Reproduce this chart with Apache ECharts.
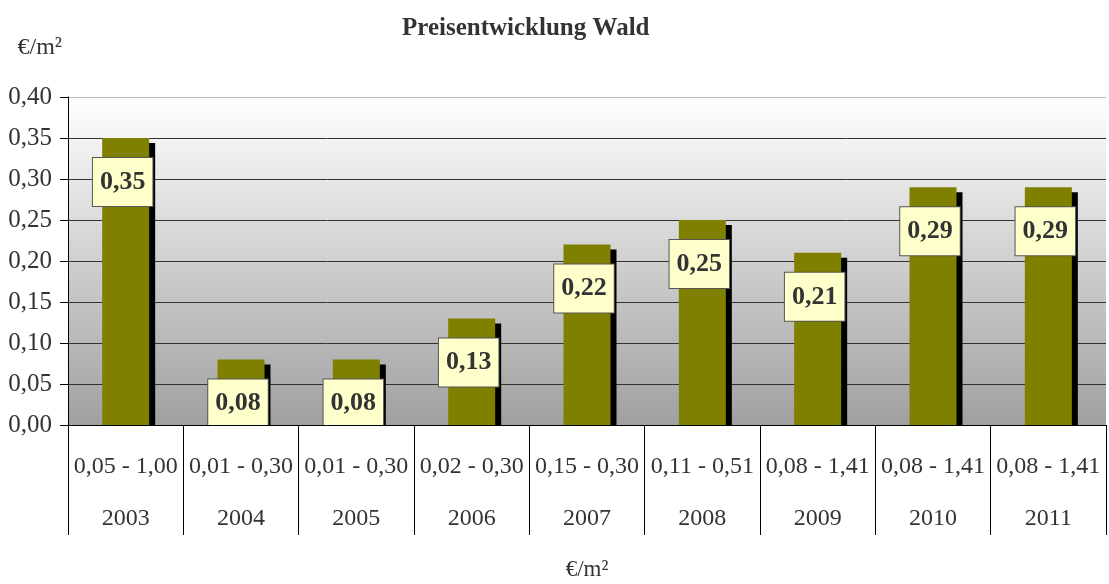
<!DOCTYPE html>
<html>
<head>
<meta charset="utf-8">
<script src="https://cdn.jsdelivr.net/npm/echarts@6/dist/echarts.min.js"></script>
<style>
	html, body { margin: 0; padding: 0; background: #fff; }
	#chart { width: 1109px; height: 584px; }
</style>
</head>
<body>
<div id="chart"></div>
<script>
// Daten
var years = ['2003', '2004', '2005', '2006', '2007', '2008', '2009', '2010', '2011'];
var ranges = ['0,05 - 1,00', '0,01 - 0,30', '0,01 - 0,30', '0,02 - 0,30', '0,15 - 0,30', '0,11 - 0,51', '0,08 - 1,41', '0,08 - 1,41', '0,08 - 1,41'];
var prices = [0.35, 0.08, 0.08, 0.13, 0.22, 0.25, 0.21, 0.29, 0.29];

var font = "'Liberation Serif', 'Times New Roman', serif";

function komma(v) {
	return v.toFixed(2).replace('.', ',');
}

var myChart = echarts.init(document.getElementById('chart'));
var option = {
	animation: false,
	title: {
		text: 'Preisentwicklung Wald',
		left: 397,
		top: 11,
		textStyle: {
			fontFamily: font,
			fontSize: 25,
			fontWeight: 'bold',
			color: '#333'
		}
	},
	grid: {
		left: 68,
		right: 3,
		top: 97,
		bottom: 159,
		outerBoundsMode: 'none',
		show: true,
		borderWidth: 0,
		backgroundColor: new echarts.graphic.LinearGradient(0, 0, 0, 1, [
			{ offset: 0, color: '#ffffff' },
			{ offset: 1, color: '#a0a0a0' }
		])
	},
	xAxis: {
		type: 'category',
		data: years,
		z: 10,
		name: '€/m²',
		nameLocation: 'middle',
		nameGap: 133,
		nameTextStyle: { fontFamily: font, fontSize: 23, color: '#333' },
		axisLine: { lineStyle: { color: '#000', width: 1 } },
		axisTick: { show: true, length: 110, lineStyle: { color: '#000' } },
		axisLabel: {
			margin: 16,
			interval: 0,
			formatter: function(value, idx) {
				return '{a|' + ranges[idx] + '}\n{a|' + value + '}';
			},
			rich: {
				a: { fontFamily: font, fontSize: 24, color: '#333', lineHeight: 52 }
			}
		}
	},
	yAxis: {
		type: 'value',
		min: 0,
		max: 0.4,
		interval: 0.05,
		name: '€/m²',
		nameLocation: 'end',
		nameGap: 37,
		nameTextStyle: { fontFamily: font, fontSize: 24, color: '#333', align: 'right', padding: [0, 6, 0, 0] },
		axisLine: { show: true, lineStyle: { color: '#000', width: 1 } },
		axisTick: { show: true, length: 8, lineStyle: { color: '#000' } },
		axisLabel: {
			margin: 16,
			fontFamily: font,
			fontSize: 25,
			color: '#333',
			formatter: function(v) { return komma(v); }
		},
		splitLine: {
			lineStyle: {
				color: ['#000', '#333', '#333', '#333', '#333', '#333', '#333', '#333', '#bbb'],
				width: 1
			}
		}
	},
	graphic: [{
		// deckt den Schatten unter der Achse ab
		type: 'rect',
		z: 5,
		shape: { x: 60, y: 426, width: 1049, height: 10 },
		style: { fill: '#fff' }
	}],
	series: [{
		name: 'Preis',
		type: 'bar',
		barWidth: 47,
		data: prices,
		itemStyle: {
			color: '#808000',
			shadowColor: '#000',
			shadowBlur: 0,
			shadowOffsetX: 6,
			shadowOffsetY: 5
		},
		label: {
			show: true,
			position: 'insideTop',
			distance: 20,
			offset: [-3, 0],
			formatter: function(p) { return komma(p.value); },
			fontFamily: font,
			fontSize: 26,
			fontWeight: 'bold',
			color: '#333',
			backgroundColor: '#ffffcc',
			borderColor: '#555',
			borderWidth: 1,
			padding: [11, 7, 11, 7]
		}
	}]
};
myChart.setOption(option);
</script>
</body>
</html>
